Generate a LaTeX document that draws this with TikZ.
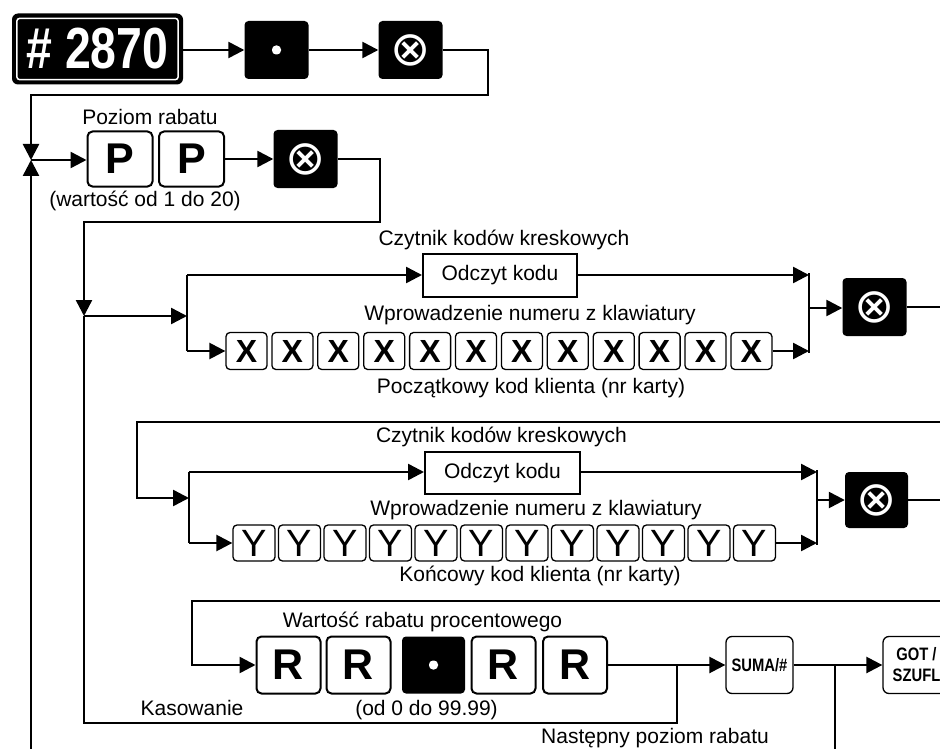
\documentclass[tikz,border=0pt]{standalone}
\usepackage{fontspec}
\setmainfont{Liberation Sans}
\newfontfamily\symfont{DejaVu Sans}
\usetikzlibrary{arrows.meta}
\begin{document}
\begin{tikzpicture}[x=1pt,y=-1pt,
  conn/.style={line width=2.5pt},
  arr/.style={conn,-{Triangle[length=16pt,width=16pt]}},
  lbl/.style={font=\fontsize{21}{25}\selectfont, inner sep=0pt, anchor=base},
  keybox/.style={draw, line width=2pt, rounded corners=5pt, fill=white, inner sep=0pt,
    minimum width=65pt, minimum height=55pt, font=\fontsize{43}{43}\selectfont\bfseries},
  xkey/.style={draw, line width=1.3pt, rounded corners=4pt, inner sep=0pt,
    minimum width=41pt, minimum height=37pt, font=\fontsize{32}{32}\selectfont\bfseries},
  ykey/.style={draw, line width=1.3pt, rounded corners=4pt, inner sep=0pt,
    minimum width=42pt, minimum height=36pt, font=\fontsize{38}{38}\selectfont},
  blackkey/.style={fill=black, rounded corners=4pt, inner sep=0pt,
    minimum width=64pt, minimum height=58pt, text=white},
  oxkey/.style={blackkey, font=\symfont\fontsize{48}{48}\selectfont},
  dotkey/.style={blackkey, path picture={
    \fill[white] ([shift={(-4.5pt,-4.5pt)}]path picture bounding box.center)
      rectangle ([shift={(4.5pt,4.5pt)}]path picture bounding box.center);}},
  readbox/.style={draw, line width=2pt, inner sep=0pt, minimum width=154pt,
    minimum height=43pt, font=\fontsize{21}{25}\selectfont},
  fnkey/.style={draw, line width=1.3pt, rounded corners=6pt, inner sep=0pt,
    minimum width=67pt, minimum height=57pt, align=center,
    font=\fontsize{18}{21}\selectfont\bfseries},
]
\useasboundingbox (0,0) rectangle (940,749);
\clip (0,0) rectangle (940,749);

% ---------- row 0 ----------
\node[fill=black, rounded corners=6pt, minimum width=171pt, minimum height=71pt, inner sep=0pt,
  text=white, font=\fontsize{58}{58}\selectfont\bfseries] (hash) at (97.5,49) {\scalebox{0.8}[1]{\# 2870}};
\draw[white, line width=1.5pt, rounded corners=3pt] ([shift={(5pt,5pt)}]hash.south west) rectangle ([shift={(-5pt,-5pt)}]hash.north east);
\node[dotkey] (dot0) at (276.5,50) {};
\node[oxkey] (ox0) at (410.5,50) {⊗};
\draw[arr] (hash.east |- dot0) -- (dot0.west);
\draw[arr] (dot0.east) -- (ox0.west);

\coordinate (j1) at (31,160);
\coordinate (c0a) at (488,95);
\coordinate (c0b) at (31,95);
\draw[arr] (ox0.east) -| (c0a) -- (c0b) -- (j1);

% ---------- row 1 ----------
\node[keybox] (P1) at (120,159) {P};
\node[keybox] (P2) at (191.5,159) {P};
\node[oxkey] (ox1) at (305.5,159) {⊗};
\node[lbl] (lpoz) at (150,125) {Poziom rabatu};
\node[lbl] (lwar) at (145,206) {(wartość od 1 do 20)};
\draw[arr] (j1) -- (P1.west |- j1);
\draw[arr] (P2.east) -- (ox1.west);
\coordinate (bl) at (31,760);
\draw[arr] (bl) -- (j1);

\coordinate (j2) at (84,316);
\coordinate (c1a) at (380,222);
\coordinate (c1b) at (84,222);
\draw[arr] (ox1.east) -| (c1a) -- (c1b) -- (j2);

% ---------- row 2 ----------
\coordinate (s2t) at (187,275);
\coordinate (s2m) at (187,316);
\coordinate (s2b) at (187,351);
\node[readbox] (O1) at (500,275) {Odczyt kodu};
\foreach \i in {1,...,12} {
  \node[xkey] (X\i) at ({246.5+(\i-1)*45.9},351) {X};
}
\coordinate (m2t) at (809,275);
\coordinate (m2m) at (809,308);
\coordinate (m2b) at (809,351);
\node[oxkey] (ox2) at (874.5,307) {⊗};
\coordinate (e2) at (950,307);
\draw[arr] (j2) -- (s2m);
\draw[conn] (s2t) -- (s2b);
\draw[arr] (s2t) -- (O1.west);
\draw[arr] (s2b) -- (X1.west);
\draw[arr] (O1.east) -- (m2t);
\draw[arr] (X12.east) -- (m2b);
\draw[conn] ([yshift=2pt]m2t) -- ([yshift=-2pt]m2b);
\draw[arr] (m2m) -- (ox2.west |- m2m);
\draw[conn] (ox2.east) -- (e2);
\node[lbl] (lcz1) at (504,245) {Czytnik kodów kreskowych};
\node[lbl] (lwp1) at (530,320) {Wprowadzenie numeru z klawiatury};
\node[lbl] (lpk) at (531,393) {Początkowy kod klienta (nr karty)};

% ---------- row 3 ----------
\coordinate (e3) at (950,422);
\coordinate (c3a) at (137,422);
\coordinate (s3t) at (189,472);
\coordinate (s3m) at (189,498);
\coordinate (s3b) at (189,543);
\node[readbox, minimum width=155pt, minimum height=42pt] (O2) at (502.5,473) {Odczyt kodu};
\foreach \i in {1,...,12} {
  \node[ykey] (Y\i) at ({254+(\i-1)*45.5},543) {Y};
}
\coordinate (m3t) at (817,472);
\coordinate (m3m) at (817,500);
\coordinate (m3b) at (817,543);
\node[oxkey, minimum width=63pt, minimum height=56pt] (ox3) at (876.5,500) {⊗};
\coordinate (e3b) at (950,500);
\draw[arr] (e3) -- (c3a) |- (s3m);
\draw[conn] (s3t) -- (s3b);
\draw[arr] (s3t) -- (O2.west |- s3t);
\draw[arr] (s3b) -- (Y1.west);
\draw[arr] (O2.east |- m3t) -- (m3t);
\draw[arr] (Y12.east) -- (m3b);
\draw[conn] ([yshift=2pt]m3t) -- ([yshift=-2pt]m3b);
\draw[arr] (m3m) -- (ox3.west);
\draw[conn] (ox3.east) -- (e3b);
\node[lbl] (lcz2) at (501.5,442) {Czytnik kodów kreskowych};
\node[lbl] (lwp2) at (536,515) {Wprowadzenie numeru z klawiatury};
\node[lbl] (lkk) at (540,581) {Końcowy kod klienta (nr karty)};

% ---------- row 4 ----------
\coordinate (e4) at (950,601);
\coordinate (c4a) at (192,601);
\node[keybox, minimum width=64pt, minimum height=57pt] (R1) at (288.5,665) {R};
\node[keybox, minimum width=64pt, minimum height=57pt] (R2) at (358.5,665) {R};
\node[dotkey, minimum width=63pt, minimum height=57pt] (dot4) at (433.5,665) {};
\node[keybox, minimum width=64pt, minimum height=57pt] (R3) at (503.5,665) {R};
\node[keybox, minimum width=64pt, minimum height=57pt] (R4) at (575,665) {R};
\node[fnkey] (suma) at (759.5,665) {\scalebox{0.82}[1]{SUMA/\#}};
\node[fnkey] (got) at (916.5,665) {\scalebox{0.82}[1]{GOT /}\\\scalebox{0.82}[1]{SZUFL}};
\draw[arr] (e4) -- (c4a) |- (R1.west);
\draw[arr] (R4.east) -- (suma.west);
\draw[arr] (suma.east) -- (got.west);
\coordinate (k1) at (677,665);
\coordinate (k2) at (677,723);
\coordinate (k3) at (84,723);
\draw[conn] (k1) -- (k2) -- (k3) -- (j2);
\coordinate (n1) at (835,665);
\coordinate (n2) at (835,760);
\draw[conn] (n1) -- (n2);
\node[lbl] (lwr) at (422.5,627) {Wartość rabatu procentowego};
\node[lbl] (lkas) at (192,715) {Kasowanie};
\node[lbl] (lod) at (426.5,715) {(od 0 do 99.99)};
\node[lbl] (lnas) at (655,743) {Następny poziom rabatu};
\end{tikzpicture}
\end{document}
